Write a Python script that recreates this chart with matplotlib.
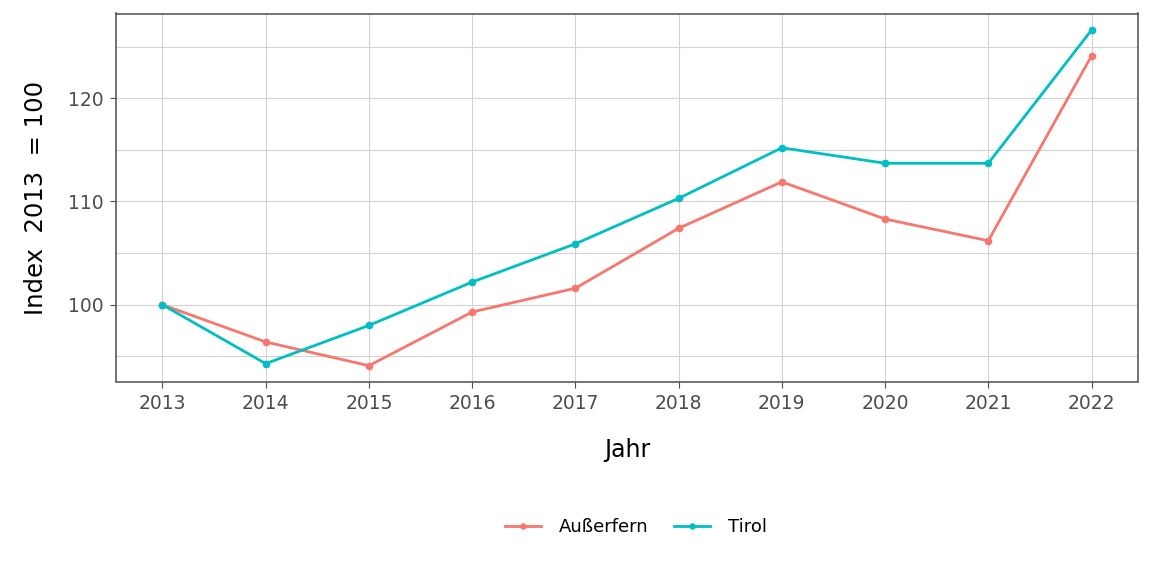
import matplotlib.pyplot as plt

# Data
jahre = [2013, 2014, 2015, 2016, 2017, 2018, 2019, 2020, 2021, 2022]
ausserfern = [100.0, 96.4, 94.1, 99.3, 101.6, 107.4, 111.9, 108.3, 106.2, 124.1]
tirol = [100.0, 94.3, 98.0, 102.2, 105.9, 110.3, 115.2, 113.7, 113.7, 126.6]

fig = plt.figure(figsize=(11.52, 5.76), dpi=100)
ax = fig.add_axes([116 / 1152, 1 - 381.5 / 576, (1138 - 116) / 1152, (381.5 - 13.5) / 576])

ax.plot(jahre, ausserfern, color='#F8766D', lw=2, marker='o', ms=4.5, label='Außerfern')
ax.plot(jahre, tirol, color='#00BFC4', lw=2, marker='o', ms=4.5, label='Tirol')

ax.set_xlim(2012.55, 2022.45)
ax.set_ylim(92.57, 128.2)
ax.set_xticks(jahre)
ax.set_yticks([100, 110, 120])
ax.set_yticks([95, 105, 115, 125], minor=True)
ax.grid(True, which='both', color='#D3D3D3', lw=0.8)
ax.set_axisbelow(True)
for s in ax.spines.values():
    s.set_color('#4D4D4D')
    s.set_linewidth(1.1)
ax.tick_params(which='major', labelsize=13.5, labelcolor='#4D4D4D', color='#4D4D4D', length=4, pad=5)
ax.tick_params(which='minor', length=0)

ax.set_xlabel('Jahr', fontsize=17, labelpad=18)
ax.set_ylabel('Index  2013  = 100', fontsize=17.5, labelpad=14)

fig.legend(loc='center', bbox_to_anchor=(0.552, 1 - 527 / 576), ncol=2, frameon=False,
           fontsize=13, handlelength=2.0, handletextpad=1.0, columnspacing=1.4, markerscale=0.8)

fig.savefig('out.png', dpi=100)
